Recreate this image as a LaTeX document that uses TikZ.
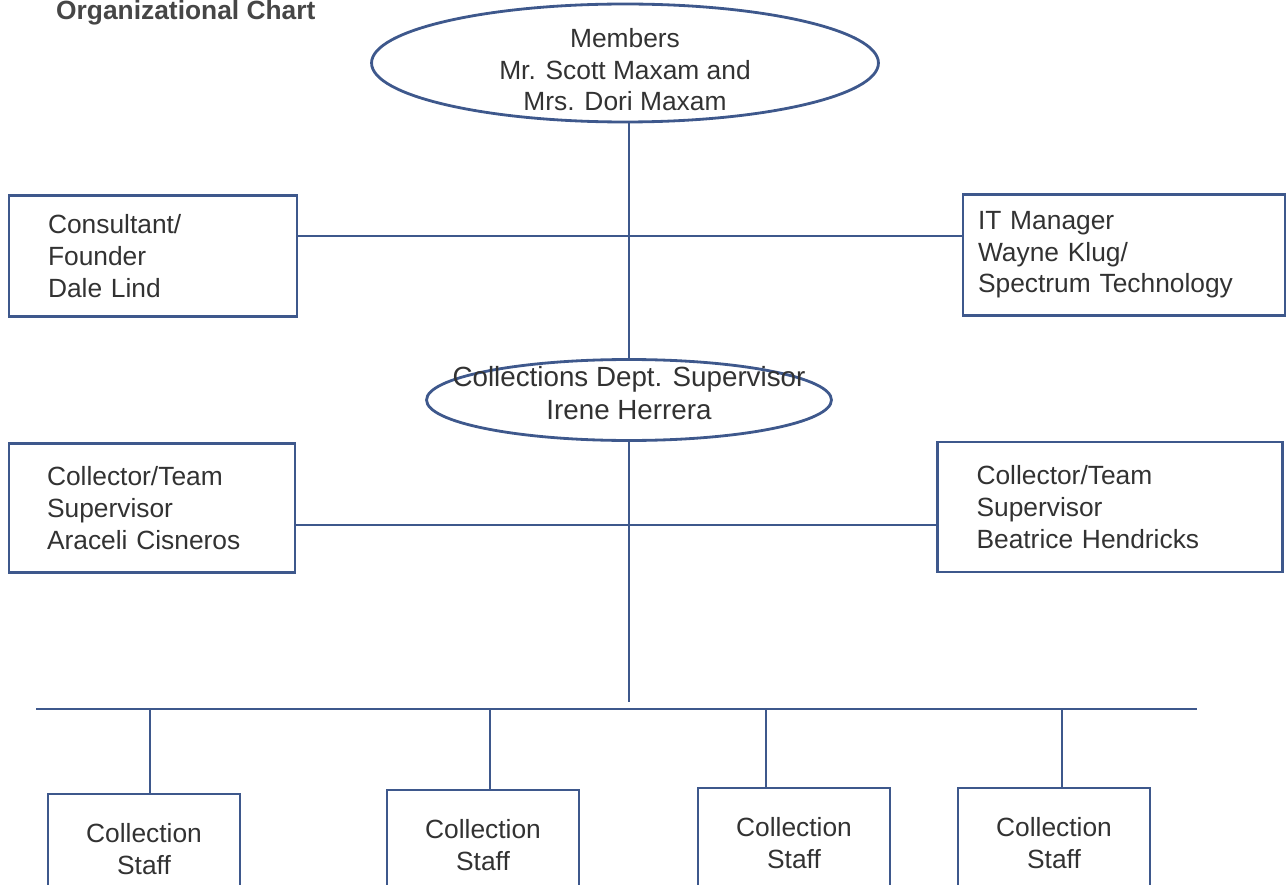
\documentclass[tikz,border=0pt]{standalone}
\usepackage{fontspec}
\setmainfont{Liberation Sans}
\usetikzlibrary{shapes.geometric,positioning}
\definecolor{chartline}{RGB}{62,88,140}
\definecolor{chartink}{RGB}{50,50,50}
\tikzset{
  chart/.style={line width=1.6pt, draw=chartline},
  orgtext/.style={text=chartink, font=\fontsize{15}{18}\selectfont},
  orgell/.style={chart, orgtext, ellipse, inner sep=-0.8cm, align=center},
  orgbox/.style={chart, orgtext, rectangle, align=left, inner ysep=0pt},
  staffbox/.style={chart, orgtext, rectangle, align=center, minimum width=3.84cm, minimum height=2.2cm}
}
\begin{document}
\begin{tikzpicture}[x=0.02cm,y=-0.02cm]
\useasboundingbox (0,0) rectangle (1288,885);
\clip (0,0) rectangle (1288,885);
\node[anchor=base west, text=chartink!90, font=\fontsize{15}{18}\selectfont\bfseries] (title) at (50,20) {Organizational Chart};
% owners and department head
\node[orgell, minimum width=10.14cm, minimum height=2.36cm] (members) at (625,63) {\rule{0pt}{0.66cm}Members\\Mr. Scott Maxam and\\Mrs. Dori Maxam};
\node[orgell, font=\fontsize{15.8}{18.5}\selectfont, minimum width=8.1cm, minimum height=1.62cm] (dept) at (629,400) {Collections Dept. Supervisor\\Irene Herrera\rule[-0.28cm]{0pt}{0pt}};
% side boxes
\node[orgbox, text width=4.2cm, inner xsep=0.78cm, minimum height=2.42cm] (founder) at (153,256) {Consultant/\\Founder\\Dale Lind};
\node[orgbox, text width=5.84cm, inner xsep=0.3cm, minimum height=2.42cm] (itmgr) at (1124,255) {IT Manager\\Wayne Klug/\\Spectrum Technology};
\node[orgbox, text width=4.2cm, inner xsep=0.76cm, minimum height=2.58cm] (teamA) at (152,508) {Collector/Team\\Supervisor\\Araceli Cisneros};
\node[orgbox, text width=5.34cm, inner xsep=0.78cm, minimum height=2.6cm] (teamB) at (1110,507) {Collector/Team\\Supervisor\\Beatrice Hendricks};
% staff boxes
\node[staffbox] (staff1) at (144,849) {Collection\\Staff};
\node[staffbox] (staff2) at (483,845) {Collection\\Staff};
\node[staffbox] (staff3) at (794,843) {Collection\\Staff};
\node[staffbox] (staff4) at (1054,843) {Collection\\Staff};
% connectors
\coordinate (hubA) at (629,236);
\coordinate (hubB) at (629,525);
\coordinate (stub) at (629,702);
\coordinate (busL) at (36,709);
\coordinate (busR) at (1197,709);
\draw[chart] (dept.north) -- (dept.north |- members.south);
\draw[chart] (founder.east |- hubA) -- (itmgr.west |- hubA);
\draw[chart] (teamA.east |- hubB) -- (teamB.west |- hubB);
\draw[chart] (dept.south) -- (stub);
\draw[chart] (busL) -- (busR);
\draw[chart] (staff1.north -| 150,0) -- (150,709);
\draw[chart] (staff2.north -| 490,0) -- (490,709);
\draw[chart] (staff3.north -| 766,0) -- (766,709);
\draw[chart] (staff4.north -| 1062,0) -- (1062,709);
\end{tikzpicture}
\end{document}
